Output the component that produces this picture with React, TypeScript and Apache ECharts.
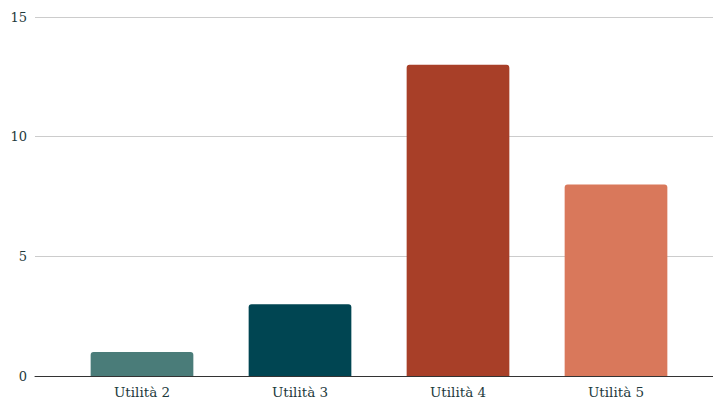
import React, { useEffect, useRef } from "react";
import * as echarts from "echarts";

const categories = ["Utilità 2", "Utilità 3", "Utilità 4", "Utilità 5"];
const values = [1, 3, 13, 8];
const barColors = ["#4a7c79", "#004552", "#a83f28", "#d9785b"];
const yTicks = [0, 5, 10, 15];

const FONT = "'DejaVu Serif', 'Liberation Serif', serif";

export default function App() {
  const ref = useRef<HTMLDivElement>(null);
  useEffect(() => {
    if (!ref.current) return;
    const chart = echarts.init(ref.current, null, { renderer: "svg" });
    const yMax = yTicks[yTicks.length - 1];
    chart.setOption({
      animation: false,
      grid: [
        { left: 35, right: 0, top: 17, bottom: 24 },
        { left: 63, right: 18, top: 17, bottom: 24 },
      ],
      xAxis: [
        {
          gridIndex: 0,
          type: "category",
          data: [""],
          axisLine: { lineStyle: { color: "#333333", width: 1 } },
          axisTick: { show: false },
          axisLabel: { show: false },
        },
        {
          gridIndex: 1,
          type: "category",
          data: categories,
          axisLine: { show: false },
          axisTick: { show: false },
          axisLabel: {
            color: "#1e3a3c",
            fontFamily: FONT,
            fontSize: 13.5,
            margin: 9,
          },
        },
      ],
      yAxis: [
        {
          gridIndex: 0,
          type: "value",
          min: 0,
          max: yMax,
          interval: 5,
          axisLine: { show: false },
          axisTick: { show: false },
          axisLabel: {
            color: "#1e3a3c",
            fontFamily: FONT,
            fontSize: 13,
            margin: 8,
          },
          splitLine: { lineStyle: { color: "#cccccc", width: 1 } },
        },
        {
          gridIndex: 1,
          type: "value",
          min: 0,
          max: yMax,
          interval: 5,
          show: false,
          splitLine: { show: false },
        },
      ],
      series: [
        {
          type: "bar",
          xAxisIndex: 1,
          yAxisIndex: 1,
          barCategoryGap: "35%",
          data: values.map((v, i) => ({
            value: v,
            itemStyle: { color: barColors[i], borderRadius: [3, 3, 0, 0] },
          })),
        },
      ],
    });
    return () => chart.dispose();
  }, []);
  return <div ref={ref} style={{ width: 713, height: 400, position: "absolute", left: 0, top: 0 }} />;
}
